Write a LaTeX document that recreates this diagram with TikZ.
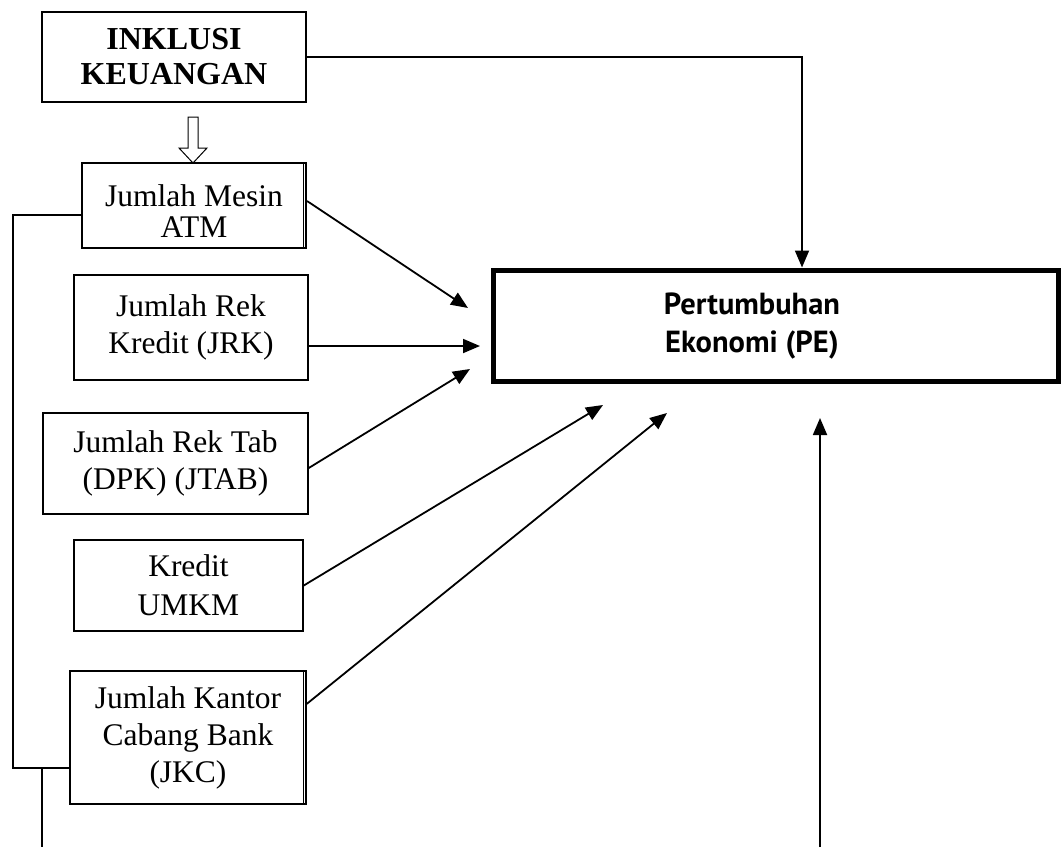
\documentclass[tikz,border=0pt]{standalone}
\usepackage{fontspec}
\setmainfont{Liberation Serif}
\newfontfamily\pefont{PT Sans}
\usetikzlibrary{arrows.meta,calc}
\begin{document}
\begin{tikzpicture}[x=1pt,y=-1pt,
  box/.style={draw, line width=1.5pt, inner sep=0pt, align=center, font=\fontsize{31.5}{37}\selectfont},
  conn/.style={line width=1.8pt, -{Triangle[length=17pt,width=14pt]}},
  plain/.style={line width=1.8pt},
  hollow/.style={line width=1pt},
]
\useasboundingbox (0,0) rectangle (1062,847);

% boxes
\node[box, minimum width=264pt, minimum height=90pt, line width=1.8pt, font=\bfseries\fontsize{32}{35}\selectfont] (ink) at (174,57) {INKLUSI\\KEUANGAN};
\node[box, minimum width=224pt, minimum height=85pt, line width=2pt] (atm) at (194,205.5) {};
\node[align=center, inner sep=0pt, font=\fontsize{31.5}{31}\selectfont] (atmlabel) at (194,211) {Jumlah Mesin\\ATM};
\node[box, minimum width=234pt, minimum height=105pt] (jrk) at (191,327.5) {Jumlah Rek\\Kredit (JRK)};
\node[box, minimum width=265pt, minimum height=101pt] (jtab) at (175.5,463.5) {Jumlah Rek Tab\\(DPK) (JTAB)};
\node[box, minimum width=229pt, minimum height=91pt, font=\fontsize{31.5}{39}\selectfont] (umkm) at (188.5,585.5) {Kredit\\UMKM};
\node[box, minimum width=236pt, minimum height=133pt] (jkc) at (188,737.5) {Jumlah Kantor\\Cabang Bank\\(JKC)};
\node[draw, line width=5pt, minimum width=565pt, minimum height=111pt, inner sep=0pt] (pe) at (775.5,325.5) {};
\node[align=center, inner sep=0pt, font=\pefont\bfseries\fontsize{30.5}{38}\selectfont] (pelabel) at (752,326) {Pertumbuhan\\Ekonomi (PE)};

% double right edges
\draw[line width=1pt] ([xshift=-3.5pt]atm.north east) -- ([xshift=-3.5pt]atm.south east);
\draw[line width=1pt] ([xshift=-3.5pt]jkc.north east) -- ([xshift=-3.5pt]jkc.south east);

% hollow arrow
\draw[hollow] (188,117) -- (198,117) -- (198,148) -- (207,148) -- (193,163) -- (179,148) -- (188,148) -- cycle;

% coordinates
\coordinate (petop) at (802,267.5);
\coordinate (t1) at (468,308);
\coordinate (t2) at (480,346);
\coordinate (t3) at (470,369);
\coordinate (t4) at (603,405);
\coordinate (t5) at (667,413);
\coordinate (b2) at (820,847);
\coordinate (t6) at (820,418);
\coordinate (lb1) at (13,215);
\coordinate (lb2) at (13,768);
\coordinate (lb3) at (42,768);
\coordinate (bot1) at (42,847);

% connectors
\draw[conn] (ink.east) -| (petop);
\draw[conn] ([yshift=4.5pt]atm.east) -- (t1);
\draw[conn] (jrk.east |- t2) -- (t2);
\draw[conn] ([yshift=-4.5pt]jtab.east) -- (t3);
\draw[conn] (umkm.east) -- (t4);
\draw[conn] ($(jkc.north east)!0.25!(jkc.south east)$) -- (t5);
\draw[conn] (b2) -- (t6);
\draw[plain] (atm.west |- lb1) -- (lb1) -- (lb2) -- (jkc.west |- lb2);
\draw[plain] (lb3) -- (bot1);
\end{tikzpicture}
\end{document}
